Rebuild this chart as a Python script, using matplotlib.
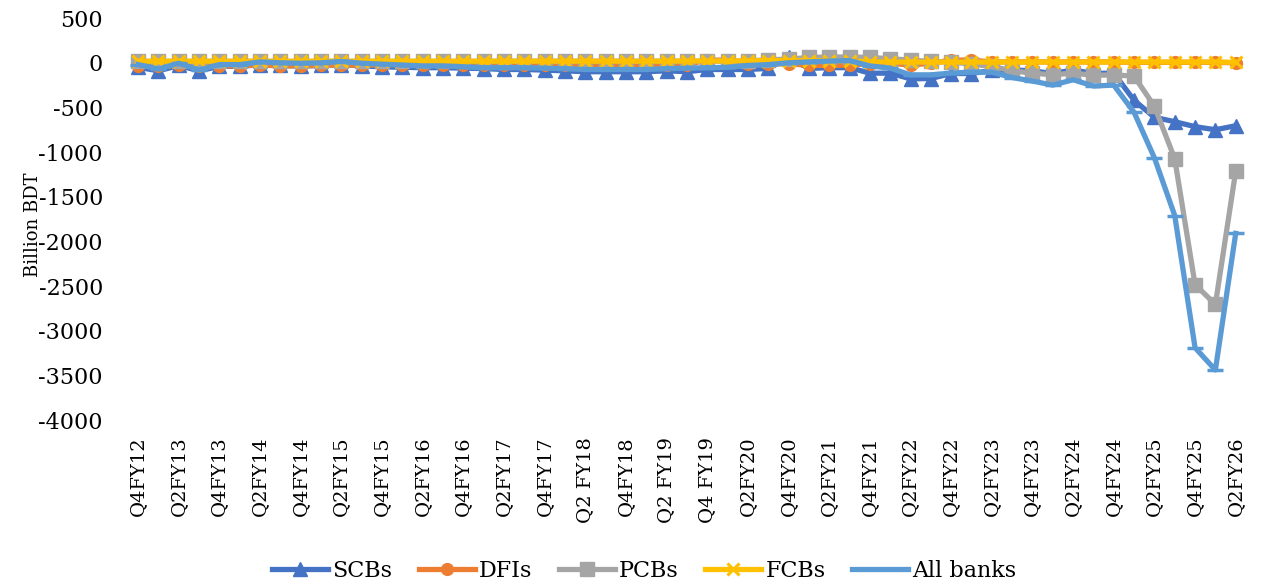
import matplotlib
matplotlib.use('Agg')
import matplotlib.pyplot as plt
import numpy as np

plt.rcParams['font.family'] = ['DejaVu Serif']
plt.rcParams['axes.unicode_minus'] = False

# quarters Q4FY12 .. Q2FY26, labels shown on every other quarter
quarter_labels = ['Q4FY12', 'Q2FY13', 'Q4FY13', 'Q2FY14', 'Q4FY14', 'Q2FY15',
                  'Q4FY15', 'Q2FY16', 'Q4FY16', 'Q2FY17', 'Q4FY17', 'Q2 FY18',
                  'Q4FY18', 'Q2 FY19', 'Q4 FY19', 'Q2FY20', 'Q4FY20', 'Q2FY21',
                  'Q4FY21', 'Q2FY22', 'Q4FY22', 'Q2FY23', 'Q4FY23', 'Q2FY24',
                  'Q4FY24', 'Q2FY25', 'Q4FY25', 'Q2FY26']

scbs = [-50, -90, -30, -90, -40, -40, -20, -30, -35, -30, -20, -35, -45, -50,
        -55, -55, -60, -65, -75, -75, -82, -90, -100, -100, -100, -100, -90,
        -100, -75, -75, -75, -63, 60, -63, -55, -55, -116, -116, -180, -176,
        -120, -120, -85, -80, -90, -120, -80, -120, -115, -420, -610, -660,
        -715, -750, -705]
dfis = [-35, -40, -30, -40, -35, -35, -25, -35, -35, -30, -25, -30, -20, -20,
        -20, -20, -20, -20, -20, -25, -25, -25, -25, -25, -25, -25, -20, -20,
        30, 30, -10, -15, -10, -30, -30, -25, -10, -5, -25, -5, 30, 30, 10,
        10, 10, 10, 10, 10, 10, 5, 5, 5, 5, 5, 0]
pcbs = [15, 15, 15, 15, 15, 15, 15, 15, 15, 15, 15, 15, 15, 15, 15, 15, 15,
        15, 18, 18, 18, 18, 18, 18, 18, 18, 18, 18, 18, 18, 20, 35, 40, 60,
        65, 65, 60, 45, 30, 15, 10, -15, -40, -90, -115, -135, -115, -140,
        -135, -150, -486, -1075, -2483, -2706, -1213]
fcbs = [18, 18, 18, 18, 18, 18, 18, 18, 18, 18, 18, 18, 18, 18, 18, 18, 18,
        18, 18, 18, 18, 18, 18, 18, 18, 18, 18, 20, 20, 20, 22, 25, 25, 25,
        25, 22, 10, 8, 8, 8, 8, 8, 8, 8, 8, 8, 8, 8, 8, 8, 8, 8, 8, 8, 5]
all_banks = [-20, -70, -5, -80, -20, -20, 10, 0, -5, 0, 15, -5, -15, -25, -35,
             -35, -45, -55, -55, -55, -60, -65, -75, -75, -75, -75, -65, -60,
             -55, -50, -30, -20, 0, 10, 20, 25, -35, -60, -135, -135, -115,
             -105, -105, -165, -205, -250, -190, -260, -250, -555, -1064,
             -1710, -3190, -3440, -1910]

x = np.arange(len(all_banks))

fig = plt.figure(figsize=(12.61, 5.85), dpi=100)
ax = fig.add_axes([0.1015, 0.282, 0.8865, 0.687])

lw = 3.8
ax.plot(x, scbs, color='#4472C4', lw=lw, marker='^', ms=10.5, label='SCBs')
ax.plot(x, dfis, color='#ED7D31', lw=lw, marker='o', ms=8.5, label='DFIs')
ax.plot(x, pcbs, color='#A5A5A5', lw=lw, marker='s', ms=10.5, label='PCBs')
ax.plot(x, fcbs, color='#FFC000', lw=lw, marker='x', ms=8.5, mew=2.2,
        label='FCBs')
ax.plot(x, all_banks, color='#5B9BD5', lw=lw, marker='_', ms=11, mew=2.5,
        label='All banks')

ax.set_xlim(-0.5, len(all_banks) - 0.5)
ax.set_ylim(-4000, 500)
ax.set_yticks(np.arange(-4000, 501, 500))
ax.set_xticks(x[::2])
ax.set_xticklabels(quarter_labels, rotation=90, va='top', ha='center')

for s in ax.spines.values():
    s.set_visible(False)
ax.tick_params(axis='y', length=0, pad=18, labelsize=16)
ax.tick_params(axis='x', length=0, pad=12, labelsize=14)

ax.set_ylabel('Billion BDT', fontsize=13)
ax.yaxis.set_label_coords(-0.077, 0.485)

fig.legend(loc='center', bbox_to_anchor=(0.511, 0.024), ncol=5, frameon=False,
           fontsize=16, handlelength=2.5, handletextpad=0.2, columnspacing=1.2)

fig.savefig('out.png', dpi=100)
